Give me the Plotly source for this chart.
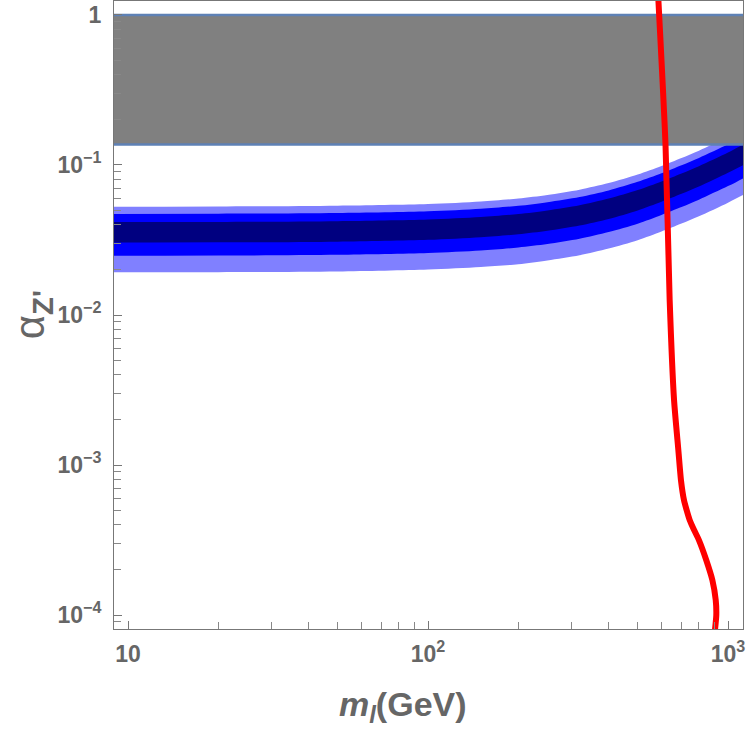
import plotly.graph_objects as go

# ---------------- data ----------------
m_band = [8, 20, 50, 100, 150, 200, 250, 320, 400, 500, 600, 700, 800, 1000, 1130, 1300]
light_lo = [0.0193, 0.0193, 0.0195, 0.0201, 0.0209, 0.0218, 0.0231, 0.0250, 0.0277, 0.0315, 0.0360, 0.0407, 0.0455, 0.0561, 0.0636, 0.0742]
blue_lo = [0.0248, 0.0249, 0.0252, 0.0259, 0.0269, 0.0282, 0.0297, 0.0322, 0.0357, 0.0406, 0.0464, 0.0524, 0.0587, 0.0723, 0.0820, 0.0956]
navy_lo = [0.0304, 0.0305, 0.0308, 0.0317, 0.0330, 0.0345, 0.0364, 0.0395, 0.0437, 0.0498, 0.0568, 0.0642, 0.0718, 0.0886, 0.1004, 0.1171]
navy_hi = [0.0416, 0.0417, 0.0422, 0.0433, 0.0450, 0.0471, 0.0498, 0.0539, 0.0597, 0.0680, 0.0776, 0.0878, 0.0982, 0.1210, 0.1372, 0.1601]
blue_hi = [0.0472, 0.0473, 0.0478, 0.0491, 0.0511, 0.0534, 0.0565, 0.0612, 0.0677, 0.0772, 0.0880, 0.0996, 0.1114, 0.1373, 0.1556, 0.1816]
light_hi = [0.0527, 0.0529, 0.0535, 0.0549, 0.0571, 0.0598, 0.0631, 0.0684, 0.0757, 0.0863, 0.0984, 0.1113, 0.1245, 0.1535, 0.1740, 0.2030]

excl_m = [1, 10000]
excl_lo = 0.137
excl_hi = 1.0

red_m = [586, 619, 639, 661, 683, 697, 713, 728, 745, 770, 800, 846, 887, 910, 914, 905]
red_alpha = [1.26, 0.136, 0.0126, 0.0027, 0.00126, 7.9e-4, 5.85e-4, 5.0e-4, 4.3e-4, 3.7e-4,
             3.16e-4, 2.33e-4, 1.71e-4, 1.26e-4, 1.0e-4, 8.0e-5]

y_tickvals = [1e-4, 1e-3, 1e-2, 1e-1, 1]
y_ticktext = ["10<sup>−4</sup>", "10<sup>−3</sup>", "10<sup>−2</sup>", "10<sup>−1</sup>", "1"]
x_tickvals = [10, 100, 1000]
x_ticktext = ["10", "10<sup>2</sup>", "10<sup>3</sup>"]

# ---------------- figure ----------------
GRAY_TXT = "#666666"
FONT = "Liberation Sans, Arial, sans-serif"

fig = go.Figure()


def band(lo, hi, color):
    fig.add_trace(go.Scatter(
        x=m_band + m_band[::-1], y=hi + lo[::-1],
        fill="toself", fillcolor=color, mode="lines",
        line=dict(width=0, color=color, shape="spline", smoothing=0.8),
        hoverinfo="skip", showlegend=False))


band(light_lo, light_hi, "rgb(128,128,255)")
band(blue_lo, blue_hi, "rgb(0,0,255)")
band(navy_lo, navy_hi, "rgb(0,0,128)")

# excluded region (gray)
fig.add_trace(go.Scatter(
    x=excl_m + excl_m[::-1], y=[excl_hi, excl_hi, excl_lo, excl_lo],
    fill="toself", fillcolor="rgb(128,128,128)", mode="lines",
    line=dict(width=0), hoverinfo="skip", showlegend=False))
for v in (excl_hi, excl_lo):
    fig.add_trace(go.Scatter(x=excl_m, y=[v, v], mode="lines",
                             line=dict(color="#5E81B5", width=2.5),
                             hoverinfo="skip", showlegend=False))

# red curve
fig.add_trace(go.Scatter(x=red_m, y=red_alpha, mode="lines",
                         line=dict(color="#FF0000", width=6, shape="spline", smoothing=0.6),
                         hoverinfo="skip", showlegend=False))

axis_common = dict(
    type="log", showgrid=False, zeroline=False,
    showline=True, linecolor="#777777", linewidth=1, mirror=True,
    ticks="inside", ticklen=8, tickcolor="#777777", tickwidth=1,
    tickfont=dict(family=FONT, size=23, color=GRAY_TXT),
    minor=dict(ticks="inside", ticklen=7, tickcolor="#888888", dtick="D1", showgrid=False),
)

fig.update_xaxes(**axis_common, range=[0.953, 3.05], tickmode="array",
                 tickvals=x_tickvals, ticktext=["<b>%s</b>" % t for t in x_ticktext],
                 ticklabelstandoff=4)
fig.update_yaxes(**axis_common, range=[-4.093, 0.093], tickmode="array",
                 tickvals=y_tickvals, ticktext=["<b>%s</b>" % t for t in y_ticktext],
                 ticklabelstandoff=7)

fig.update_layout(
    width=750, height=730,
    margin=dict(l=114, r=7, t=1, b=101),
    paper_bgcolor="white", plot_bgcolor="white",
    font=dict(family=FONT, color=GRAY_TXT),
    annotations=[
        dict(text="<b><i>m</i><sub><i>l</i></sub>(GeV)</b>", xref="paper", yref="paper",
             x=0.46, y=-0.124, xanchor="center", yanchor="middle", showarrow=False,
             font=dict(family=FONT, size=34, color=GRAY_TXT)),
        dict(text="α<sub><b>Z'</b></sub>", xref="paper", yref="paper",
             x=-0.13, y=0.5, xanchor="center", yanchor="middle", showarrow=False,
             textangle=-90, font=dict(family=FONT, size=42, color=GRAY_TXT)),
    ],
)

fig.write_html("out.html")
